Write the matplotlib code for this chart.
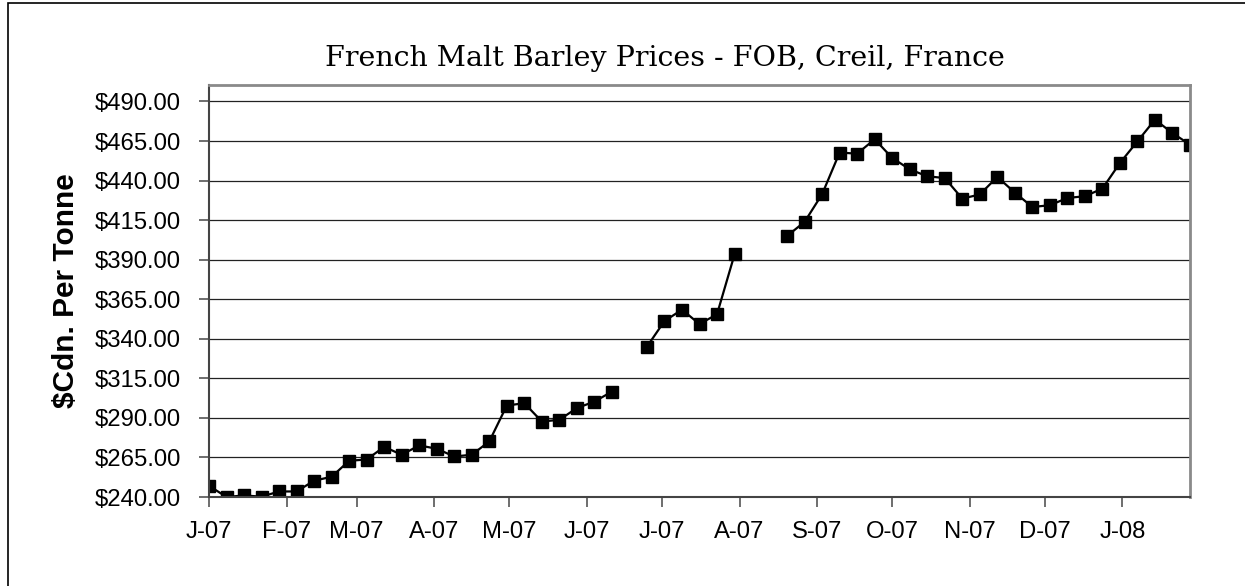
import matplotlib
matplotlib.use('Agg')
import matplotlib.pyplot as plt
import numpy as np
import pandas as pd
from matplotlib.patches import Rectangle

# Data: weekly French malt barley prices ($Cdn/tonne), None = no quote
start_date = '2007-01-01'
prices = [247.1, 240.0, 241.0, 240.2, 243.5, 243.5, 250.3, 252.8, 262.9, 263.7,
          271.7, 266.7, 272.6, 270.5, 265.6, 266.7, 275.1, 297.8, 299.3, 287.7,
          288.8, 296.2, 300.3, 306.6, None, 335.0, 351.2, 358.4, 349.3, 355.5,
          393.3, None, None, 405.0, 413.9, 431.4, 457.7, 457.0, 466.1, 454.3,
          447.1, 442.7, 441.6, 428.6, 431.2, 442.3, 432.4, 423.3, 424.4, 429.0,
          430.1, 434.9, 451.1, 464.8, 478.5, 470.0, 462.7]
month_labels = ['J-07', 'F-07', 'M-07', 'A-07', 'M-07', 'J-07', 'J-07', 'A-07',
                'S-07', 'O-07', 'N-07', 'D-07', 'J-08']
y_ticks = [240, 265, 290, 315, 340, 365, 390, 415, 440, 465, 490]

dates = pd.date_range(start_date, periods=len(prices), freq='7D')
vals = np.array([np.nan if p is None else p for p in prices])
month_starts = pd.date_range('2007-01-01', periods=len(month_labels), freq='MS')

fig = plt.figure(figsize=(12.45, 5.86), dpi=100)
fig.patch.set_facecolor('white')

# chart area border
fig.patches.append(Rectangle((8 / 1245, -0.1), 1.2, 1.1 - 3 / 586, transform=fig.transFigure,
                             fill=False, edgecolor='black', linewidth=1.2))

ax = fig.add_axes([209 / 1245, 89 / 586, 981 / 1245, 412 / 586])
ax.plot(dates, vals, color='black', linewidth=1.6, marker='s', markersize=8,
        markerfacecolor='black', markeredgecolor='black')

ax.set_xlim(dates[0], dates[-1])
ax.set_ylim(240, 500.4)
ax.set_yticks(y_ticks)
ax.set_yticklabels(['${:.2f}'.format(v) for v in y_ticks])
ax.set_xticks(month_starts)
ax.set_xticklabels(month_labels)

for v in y_ticks:
    ax.axhline(v, color='#222222', linewidth=0.9, zorder=0)

font = 'Liberation Sans'
for lab in ax.get_xticklabels() + ax.get_yticklabels():
    lab.set_fontfamily(font)
    lab.set_fontsize(17.2)
ax.tick_params(axis='both', direction='out', length=7, width=1.2, color='#555555')
ax.tick_params(axis='y', pad=13)
ax.tick_params(axis='x', pad=10)

ax.spines['left'].set_color('#444444')
ax.spines['bottom'].set_color('#444444')
ax.spines['left'].set_linewidth(1.5)
ax.spines['bottom'].set_linewidth(1.5)
ax.spines['top'].set_color('#8a8a8a')
ax.spines['right'].set_color('#8a8a8a')
ax.spines['top'].set_linewidth(2)
ax.spines['right'].set_linewidth(2)

ax.set_ylabel('$Cdn. Per Tonne', fontfamily=font, fontsize=21.5, fontweight='bold', labelpad=11)
fig.text(665 / 1245, 1 - 58 / 586, 'French Malt Barley Prices - FOB, Creil, France',
         fontfamily='DejaVu Serif', fontsize=20.5, ha='center', va='center')

fig.savefig('out.png', dpi=100, facecolor='white')
